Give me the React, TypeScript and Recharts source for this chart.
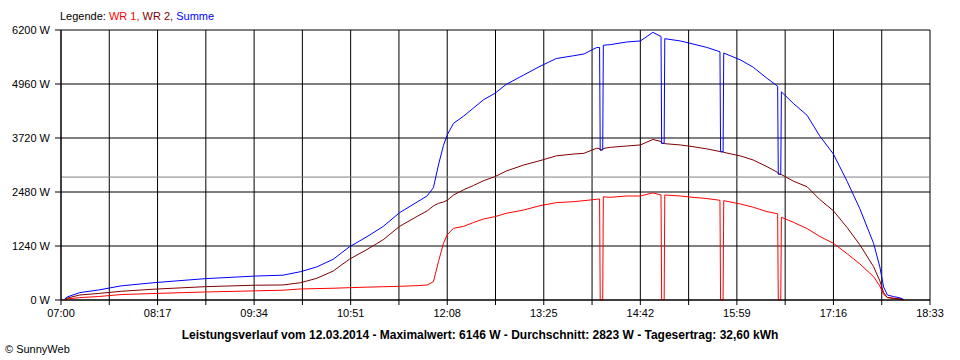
import { CartesianGrid, Line, LineChart, ReferenceLine, XAxis, YAxis } from "recharts";

// minutes after 07:00
const minutes = [3, 5, 15, 30, 48, 75, 115, 155, 177, 191, 204, 217, 230, 244, 257, 270, 284, 292, 297, 301, 305, 308, 313, 321, 329, 337, 346, 355, 369, 382, 395, 409, 417, 427, 429.5, 430, 432, 432.5, 438, 451, 462, 472, 478.5, 479, 481, 481.5, 494, 504, 515, 525.5, 526, 528, 528.5, 542, 552, 563, 571.5, 572, 574, 574.5, 584, 595, 605, 616, 627, 637, 648, 653, 656, 659, 664, 669, 672];
const wr1 = [10, 25, 55, 80, 125, 150, 184, 210, 225, 253, 262, 270, 283, 295, 305, 314, 330, 344, 420, 880, 1300, 1500, 1646, 1690, 1780, 1860, 1913, 1990, 2067, 2166, 2235, 2258, 2281, 2312, 2320, 0, 0, 2370, 2358, 2388, 2388, 2460, 2411, 0, 0, 2411, 2388, 2358, 2330, 2290, 0, 0, 2281, 2204, 2130, 2030, 1980, 0, 0, 1900, 1785, 1640, 1460, 1302, 1060, 830, 536, 320, 130, 60, 40, 30, 5];
const wr2 = [15, 45, 115, 150, 200, 250, 306, 340, 345, 397, 498, 664, 937, 1159, 1385, 1691, 1920, 2046, 2160, 2220, 2250, 2290, 2411, 2530, 2630, 2740, 2832, 2960, 3100, 3200, 3310, 3352, 3368, 3483, 3480, 3440, 3450, 3480, 3506, 3536, 3560, 3686, 3640, 3598, 3598, 3590, 3560, 3521, 3470, 3410, 3406, 3400, 3390, 3307, 3215, 3061, 2930, 2893, 2885, 2880, 2730, 2600, 2310, 2048, 1660, 1270, 766, 440, 170, 55, 38, 20, 5];
const summe = [25, 70, 170, 230, 325, 400, 490, 550, 570, 650, 760, 934, 1220, 1454, 1690, 2005, 2250, 2390, 2580, 3100, 3550, 3790, 4057, 4220, 4410, 4600, 4745, 4950, 5167, 5366, 5545, 5610, 5649, 5795, 5800, 3440, 3450, 5850, 5864, 5924, 5948, 6146, 6051, 3598, 3598, 6001, 5948, 5879, 5800, 5700, 3406, 3400, 5671, 5511, 5345, 5091, 4910, 2893, 2885, 4780, 4515, 4240, 3770, 3350, 2720, 2100, 1302, 760, 300, 115, 78, 50, 10];

const xTickLabels = ["07:00", "08:17", "09:34", "10:51", "12:08", "13:25", "14:42", "15:59", "17:16", "18:33"];
const yTicks = [0, 1240, 2480, 3720, 4960, 6200];
const average = 2823;

const data = minutes.map((m, i) => ({ m, wr1: wr1[i], wr2: wr2[i], summe: summe[i] }));

// grid every half step (38.5 min), label every 77 min
const xTicks = Array.from({ length: xTickLabels.length * 2 - 1 }, (_, i) => i * 38.5);

const font = "'Liberation Sans', Arial, sans-serif";
const tickStyle = { fill: "#000", fontSize: 11, fontFamily: font };

export default function App() {
    return (
        <div style={{ position: "absolute", left: 0, top: 0, width: 960, height: 360, background: "#fff", fontFamily: font }}>
            <div style={{ position: "absolute", left: 60, top: 10, fontSize: 11, whiteSpace: "pre" }}>
                <span style={{ color: "#000" }}>Legende: </span>
                <span style={{ color: "#ff0000" }}>WR 1, </span>
                <span style={{ color: "#800000" }}>WR 2, </span>
                <span style={{ color: "#0000ff" }}>Summe</span>
            </div>
            <LineChart width={960} height={360} data={data} margin={{ top: 30, right: 30, bottom: 0, left: 0 }}>
                <CartesianGrid stroke="#000" strokeWidth={1} horizontalValues={yTicks} verticalValues={xTicks} />
                <XAxis
                    dataKey="m"
                    type="number"
                    domain={[0, 693]}
                    ticks={xTicks}
                    interval={0}
                    height={60}
                    stroke="#000"
                    tickSize={5}
                    tickMargin={4}
                    tick={tickStyle}
                    tickFormatter={(v: number) => (Math.round(v * 2) % 154 === 0 ? xTickLabels[Math.round(v / 77)] : "")}
                />
                <YAxis
                    type="number"
                    domain={[0, 6200]}
                    ticks={yTicks}
                    interval={0}
                    width={61}
                    stroke="#000"
                    tickSize={6}
                    tickMargin={5}
                    tick={tickStyle}
                    tickFormatter={(v: number) => `${v} W`}
                />
                <ReferenceLine y={average} stroke="#808080" strokeWidth={1} />
                <Line type="linear" dataKey="wr1" stroke="#ff0000" strokeWidth={1} dot={false} isAnimationActive={false} />
                <Line type="linear" dataKey="wr2" stroke="#800000" strokeWidth={1} dot={false} isAnimationActive={false} />
                <Line type="linear" dataKey="summe" stroke="#0000ff" strokeWidth={1} dot={false} isAnimationActive={false} />
            </LineChart>
            <div style={{ position: "absolute", left: 0, width: 960, top: 328, textAlign: "center", fontSize: 12, fontWeight: "bold" }}>
                Leistungsverlauf vom 12.03.2014 - Maximalwert: 6146 W - Durchschnitt: 2823 W - Tagesertrag: 32,60 kWh
            </div>
            <div style={{ position: "absolute", left: 5, top: 343, fontSize: 11, color: "#000" }}>
                © SunnyWeb
            </div>
        </div>
    );
}
